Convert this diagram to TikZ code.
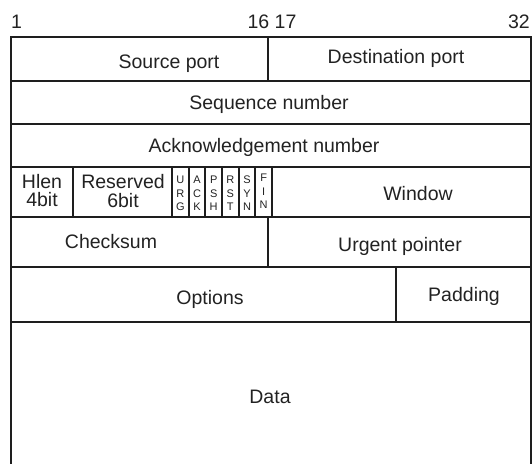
\documentclass[tikz,border=0pt]{standalone}
\usepackage{fontspec}
\setmainfont{Liberation Sans}
\definecolor{linecol}{HTML}{1E1E1E}
\definecolor{textcol}{HTML}{222222}
\begin{document}
\begin{tikzpicture}[x=1pt,y=-1pt,
  grid/.style={draw=linecol,line width=2.1pt,line cap=rect},
  lab/.style={inner sep=0pt,text=textcol,font=\fontsize{19.5}{19.5}\selectfont},
  stack/.style={inner sep=0pt,text=textcol,align=center,font=\fontsize{19.5}{18.5}\selectfont},
  flag/.style={inner sep=0pt,text=textcol,align=center,font=\fontsize{11}{13.5}\selectfont}]
\useasboundingbox (0,0) rectangle (532,463);
% frame and row lines
\draw[grid] (11,470) -- (11,37) -- (531,37) -- (531,470);
\foreach \yy in {81,124,167,217,267,322}
  \draw[grid] (11,\yy) -- (531,\yy);
% vertical dividers
\draw[grid] (268,37) -- (268,81);
\draw[grid] (268,217) -- (268,267);
\draw[grid] (396,267) -- (396,322);
\foreach \xx in {73,172,188.67,205.33,222,238.67,255.33,272}
  \draw[grid] (\xx,167) -- (\xx,217);
% bit numbers
\node[lab,anchor=base west] (b1) at (11,28) {1};
\node[lab,anchor=base] (b16) at (272,28) {16 17};
\node[lab,anchor=base east] (b32) at (530,28) {32};
% fields
\node[lab,anchor=base] (src) at (169,68) {Source port};
\node[lab,anchor=base] (dst) at (396,63) {Destination port};
\node[lab,anchor=base] (seq) at (269,109) {Sequence number};
\node[lab,anchor=base] (ack) at (264,152) {Acknowledgement number};
\node[stack] (hlen) at (42,190.5) {Hlen\\4bit};
\node[stack] (res) at (123,191) {Reserved\\6bit};
\node[flag] (urg) at (180.3,193.5) {U\\R\\G};
\node[flag] (ackf) at (197,193.5) {A\\C\\K};
\node[flag] (psh) at (213.7,193.5) {P\\S\\H};
\node[flag] (rst) at (230.3,193.5) {R\\S\\T};
\node[flag] (syn) at (247,193.5) {S\\Y\\N};
\node[flag] (fin) at (263.7,191.5) {F\\I\\N};
\node[lab,anchor=base] (win) at (418,200) {Window};
\node[lab,anchor=base] (chk) at (111,248) {Checksum};
\node[lab,anchor=base] (urgp) at (400,251) {Urgent pointer};
\node[lab,anchor=base] (opt) at (210,304) {Options};
\node[lab,anchor=base] (pad) at (464,301) {Padding};
\node[lab,anchor=base] (data) at (270,403) {Data};
\end{tikzpicture}
\end{document}
